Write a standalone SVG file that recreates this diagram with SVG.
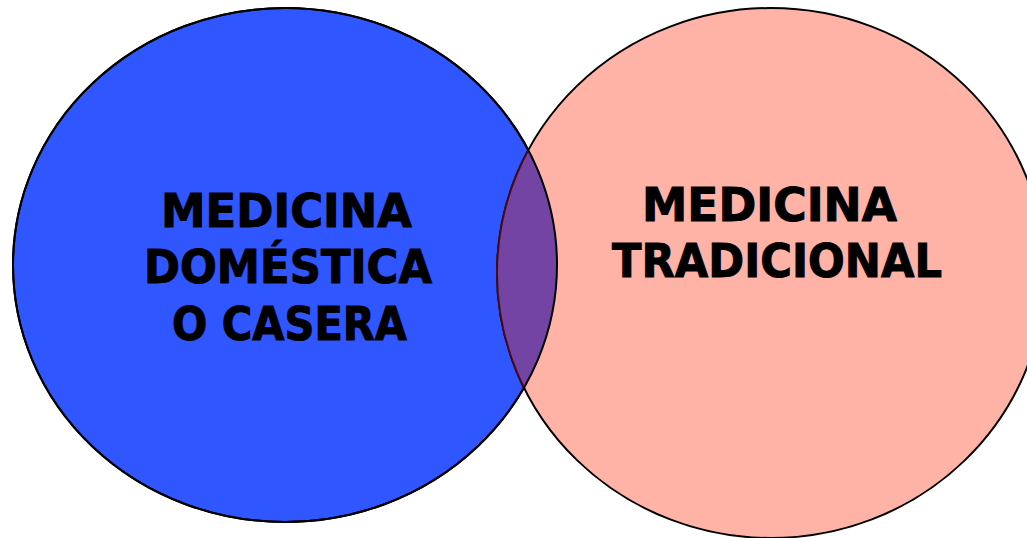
<svg xmlns="http://www.w3.org/2000/svg" width="1027" height="538" viewBox="0 0 1027 538">
<style>
.lbl{font-family:"DejaVu Sans","Liberation Sans",sans-serif;font-weight:bold;font-size:46px;fill:#000;stroke:#000;stroke-width:1}
.edge{stroke:#000;stroke-width:2}
</style>
<defs>
<clipPath id="leftClip"><ellipse cx="285" cy="265" rx="272" ry="257"/></clipPath>
</defs>
<rect width="1027" height="538" fill="#fff"/>
<g id="domestica">
<ellipse cx="285" cy="265" rx="272" ry="257" fill="#3056FF" class="edge"/>
</g>
<g id="tradicional">
<ellipse cx="771" cy="273" rx="274" ry="265" fill="#FFB3A6" class="edge"/>
</g>
<g id="overlap">
<ellipse cx="771" cy="273" rx="274" ry="265" fill="#7444A4" stroke="#4A0A10" stroke-width="2" clip-path="url(#leftClip)"/>
<ellipse cx="285" cy="265" rx="272" ry="257" fill="none" class="edge"/>
</g>
<g id="labels">
<text class="lbl" x="161" y="227" textLength="251" lengthAdjust="spacingAndGlyphs">MEDICINA</text>
<text class="lbl" x="144" y="283" textLength="288" lengthAdjust="spacingAndGlyphs">DOMÉSTICA</text>
<text class="lbl" x="172" y="340" textLength="235" lengthAdjust="spacingAndGlyphs">O CASERA</text>
<text class="lbl" x="642" y="221" textLength="255" lengthAdjust="spacingAndGlyphs">MEDICINA</text>
<text class="lbl" x="612" y="277" textLength="330" lengthAdjust="spacingAndGlyphs">TRADICIONAL</text>
</g>
</svg>
